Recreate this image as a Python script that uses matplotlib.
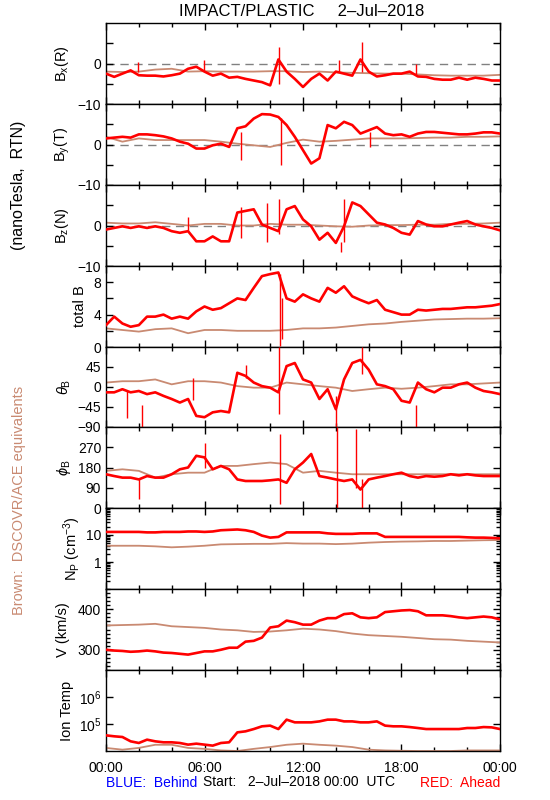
import numpy as np
import matplotlib
matplotlib.use("Agg")
import matplotlib.pyplot as plt
from matplotlib.ticker import FixedLocator, LogLocator, NullFormatter, MultipleLocator

# ---- data ----
t_red = np.arange(0, 24.01, 0.5)     # 30-min samples, STEREO-A (red)
t_brn = np.arange(0, 24.01, 1.0)     # hourly samples, DSCOVR/ACE (brown)

bx_red = [-2.5, -3.3, -2.5, -1.7, -2.9, -3.0, -3.0, -3.2, -2.9, -2.5, -1.3, -0.8, -2.0, -3.0, -2.5, -3.5,
          -3.3, -3.8, -4.2, -4.6, -5.4, 1.0, -2.0, -3.8, -5.8, -3.8, -2.5, -4.2, -2.0, -2.5, -3.0, 1.0,
          -2.0, -3.2, -2.9, -2.5, -2.5, -2.0, -3.2, -3.3, -3.8, -4.0, -4.0, -3.5, -4.0, -3.5, -3.8, -4.2, -4.2]
bx_brn = [-2.0, -2.1, -2.0, -1.5, -1.3, -2.0, -1.9, -2.0, -2.0, -2.0, -1.9, -1.9, -2.1, -2.0, -2.2, -2.3,
          -2.4, -2.5, -2.5, -2.7, -2.9, -3.0, -3.0, -3.0, -2.8]
bx_spikes = [(10.55, -5.0, 4.0), (15.6, -2.0, 5.2), (5.95, -1.5, 0.8), (1.95, -2.0, 0.4), (14.2, -2.0, 0.8), (18.9, -2.5, -0.2)]

by_red = [1.5, 1.7, 1.9, 1.7, 2.5, 2.5, 2.3, 2.0, 1.5, 0.7, 0.2, -1.0, -1.0, -0.2, 0.2, -0.6,
          4.0, 4.5, 6.4, 7.5, 7.4, 6.8, 4.8, 1.9, -1.4, -4.7, -3.4, 4.8, 4.0, 5.6, 4.8, 2.7,
          3.5, 4.3, 2.7, 2.3, 2.5, 1.9, 2.7, 3.1, 3.1, 2.9, 2.7, 2.5, 2.5, 2.7, 3.0, 3.0, 2.7]
by_brn = [1.9, 0.7, 1.5, 1.1, 1.1, 1.1, 1.1, 0.7, 0.2, -0.2, -0.6, 0.4, 1.2, 0.7, 0.9, 1.2,
          1.5, 1.5, 1.5, 1.6, 1.7, 1.7, 1.9, 1.9, 2.0]
by_spikes = [(10.66, 6.5, -5.0), (8.2, 3.0, -3.8), (16.1, 3.0, -0.5)]

bz_red = [-1.0, -0.6, -0.2, -0.6, -0.2, -0.6, -0.2, -0.6, -1.4, -1.8, -1.4, -3.9, -3.9, -2.7, -3.9, -3.9,
          3.2, 3.6, 4.0, 0.25, -0.6, -1.4, 4.0, 4.8, 1.5, -0.2, -3.5, -1.8, -4.3, -0.2, 5.7, 4.8,
          2.75, 0.7, 0.25, -0.6, -1.8, -2.25, 1.1, 0.25, -0.2, -0.2, 0.25, 0.7, 1.1, 0.25, -0.2, -0.6, -1.2]
bz_brn = [0.7, 0.5, 0.5, 0.8, 0.4, 0.0, 0.4, 0.4, 0.0, 0.0, 0.4, 0.2, 0.2, 0.0, -0.2, -0.3,
          0.0, 0.1, 0.1, 0.2, 0.2, 0.4, 0.4, 0.5, 0.7]
bz_spikes = [(9.8, 5.5, -4.0), (10.55, 6.5, -2.0), (14.5, 6.5, -4.0), (5.0, -1.0, 2.0), (8.2, -3.0, 4.5), (14.3, -4.0, -6.5)]

bt_red = [2.7, 3.75, 2.9, 2.5, 2.7, 3.75, 3.75, 4.0, 3.5, 3.75, 3.5, 4.4, 5.0, 4.6, 4.8, 5.4,
          6.0, 5.8, 7.3, 8.75, 9.0, 9.2, 6.0, 5.6, 6.5, 6.0, 5.6, 7.3, 6.7, 7.5, 6.25, 5.8,
          5.4, 5.8, 4.6, 4.3, 4.0, 4.0, 4.6, 4.5, 4.6, 4.7, 4.7, 4.8, 4.9, 4.9, 5.0, 5.1, 5.3]
bt_brn = [2.3, 2.1, 1.9, 2.2, 2.3, 1.7, 2.1, 2.1, 2.0, 2.0, 2.0, 2.1, 2.3, 2.3, 2.4, 2.6,
          2.8, 2.9, 3.1, 3.25, 3.4, 3.45, 3.5, 3.5, 3.55]
bt_spikes = [(10.6, 9.0, 0.1), (10.75, 6.0, 1.0)]

th_red = [-12, -12, -5, -12, -9, -16, -12, -20, -27, -35, -27, -65, -68, -57, -54, -57,
          32, 25, 10, 2, -1.5, -12, 47, 54, 17, 10, -27, -5, -50, 17, 54, 61,
          39, 6, 2, -5, -31, -35, 10, -5, -12, -1.5, -1.5, 6, 10, -1.5, -9, -12, -16]
th_brn = [10, 13, 13, 17, 6, 13, 13, 10, 2, -1.5, -1.5, 10, 6, 2, -1.5, -9,
          -5, -1.5, -4, -1.5, 2, 6, 6, 8, 10]
th_spikes = [(10.55, 90, -60), (14.0, -20, -90), (15.6, 90, 30), (18.9, -40, -90), (5.3, -30, 20),
             (8.5, 20, 50), (1.3, -10, -70), (2.2, -40, -90)]

ph_red = [150, 142, 135, 135, 127, 142, 135, 135, 150, 172, 180, 232, 225, 172, 187, 172,
          127, 120, 120, 120, 123, 127, 112, 172, 202, 240, 142, 135, 127, 120, 127, 82,
          127, 135, 142, 150, 157, 142, 135, 142, 139, 142, 150, 145, 150, 145, 142, 142, 142]
ph_brn = [165, 172, 165, 135, 150, 157, 157, 187, 187, 195, 202, 195, 157, 165, 157, 150,
          150, 150, 150, 150, 150, 150, 150, 150, 150]
ph_spikes = [(10.6, 20, 330), (14.05, 0, 360), (15.6, 0, 130), (2.0, 40, 130), (15.2, 90, 350), (6.0, 180, 290)]

np_red = [13, 13, 13, 13, 13, 12.5, 12.5, 13, 13, 13, 13.5, 13.5, 13, 13.5, 15, 15.5,
          16, 15, 13, 9.5, 8, 8.5, 12.5, 12.5, 12.5, 12.5, 12.5, 11.5, 11, 11, 11, 11.5,
          11.5, 11.5, 8.5, 8.5, 8.5, 8.5, 8.5, 8.5, 8.5, 8.5, 8.5, 8.5, 8.2, 8, 8, 7.8, 7.5]
np_brn = [4, 4, 4, 3.8, 3.5, 3.7, 4, 4.5, 4.6, 4.7, 4.7, 5, 4.8, 4.8, 4.6, 4.8,
          5.2, 5.5, 5.7, 5.8, 6, 6, 6.2, 6.4, 6.5]

v_red = [300, 298, 297, 295, 296, 298, 296, 293, 292, 290, 288, 292, 296, 296, 300, 305,
         305, 320, 322, 330, 355, 358, 372, 368, 362, 362, 372, 378, 378, 388, 390, 380,
         378, 380, 393, 395, 397, 398, 395, 385, 385, 385, 383, 380, 378, 380, 382, 380, 375]
v_brn = [360, 361, 362, 364, 358, 356, 354, 350, 348, 344, 345, 348, 352, 350, 346, 340,
         336, 334, 332, 329, 326, 325, 322, 320, 318]

ti_red = [38000, 35000, 33000, 22800, 19800, 26300, 22800, 21000, 21000, 19800, 17200, 18700, 17200, 15800, 19800, 21000,
          49000, 53500, 65000, 82000, 87000, 65000, 145000, 115000, 115000, 115000, 125000, 145000, 145000, 125000, 125000, 115000,
          115000, 125000, 87000, 82000, 82000, 77000, 71000, 65000, 65000, 65000, 65000, 65000, 71000, 71000, 77000, 75000, 65000]
ti_brn = [13000, 11200, 13000, 17000, 17000, 13000, 12000, 10500, 10000, 12000, 14000, 17000, 18700, 17000, 15800, 14000,
          11200, 10500, 10200, 10000, 10000, 10000, 10500, 10500, 10500]

RED = "#ff0000"
BROWN = "#c98a72"

plt.rcParams['font.family'] = ['Liberation Sans', 'DejaVu Sans']
plt.rcParams['font.size'] = 10
plt.rcParams['mathtext.fontset'] = 'custom'
plt.rcParams['mathtext.rm'] = 'Liberation Sans'
plt.rcParams['mathtext.it'] = 'Liberation Sans:italic'

fig = plt.figure(figsize=(5.5, 8), dpi=100)
W, H = 550.0, 800.0
edges = [23, 104, 185, 266, 347, 427, 508, 589, 670, 751]
x0, x1 = 106, 500

panels = [
    (bx_red, bx_brn, bx_spikes, r"B$_\mathrm{x}$(R)", 62),
    (by_red, by_brn, by_spikes, r"B$_\mathrm{y}$(T)", 62),
    (bz_red, bz_brn, bz_spikes, r"B$_\mathrm{z}$(N)", 62),
    (bt_red, bt_brn, bt_spikes, "total B", 80),
    (th_red, th_brn, th_spikes, r"$\theta_\mathrm{B}$", 64),
    (ph_red, ph_brn, ph_spikes, r"$\phi_\mathrm{B}$", 64),
    (np_red, np_brn, None, r"N$_\mathrm{P}$ (cm$^{-3}$)", 72),
    (v_red, v_brn, None, "V (km/s)", 63),
    (ti_red, ti_brn, None, "Ion Temp", 67),
]

axes = []
for i, (r, b, spk, lab, lx) in enumerate(panels):
    top, bot = edges[i], edges[i + 1]
    ax = fig.add_axes([x0 / W, 1 - bot / H, (x1 - x0) / W, (bot - top) / H])
    axes.append(ax)
    ax.plot(t_brn, b, color=BROWN, lw=1.3, zorder=2)
    ax.plot(t_red, r, color=RED, lw=1.9, zorder=3)
    if spk:
        for (ts, lo, hi) in spk:
            ax.vlines(ts, lo, hi, color=RED, lw=1.0, zorder=3)
    fig.text(lx / W, 1 - (top + bot) / 2 / H, lab, rotation=90, ha='center', va='center', fontsize=10.5)
    ax.set_xlim(0, 24)
    ax.xaxis.set_major_locator(MultipleLocator(6))
    ax.xaxis.set_minor_locator(MultipleLocator(2))
    ax.tick_params(which='both', direction='in', top=True, right=True, width=1)
    ax.tick_params(which='major', length=5)
    ax.tick_params(which='minor', length=3)
    for s in ax.spines.values():
        s.set_linewidth(1.0)
    if i < 8:
        ax.set_xticklabels([])

# magnetic components
for ax in axes[:3]:
    ax.set_ylim(-10, 10)
    ax.set_yticks([-10, -5, 0, 5])
    ax.set_yticklabels(['\u221210', '', '0', ''])
    ax.axhline(0, color='#808080', lw=1.0, dashes=(6, 4), zorder=1)

axes[3].set_ylim(0, 10)
axes[3].set_yticks([0, 2, 4, 6, 8])
axes[3].set_yticklabels(['0', '', '4', '', '8'])

axes[4].set_ylim(-90, 90)
axes[4].set_yticks([-90, -45, 0, 45])
axes[4].set_yticklabels(['\u221290', '\u221245', '0', '45'])

axes[5].set_ylim(0, 360)
axes[5].set_yticks([0, 90, 180, 270])

axes[6].set_yscale('log')
axes[6].set_ylim(0.1, 100)
axes[6].set_yticks([1, 10])
axes[6].set_yticklabels(['1', '10'])
axes[6].yaxis.set_minor_locator(LogLocator(base=10, subs=np.arange(2, 10)))
axes[6].yaxis.set_minor_formatter(NullFormatter())

axes[7].set_ylim(250, 450)
axes[7].set_yticks([300, 400])
axes[7].yaxis.set_minor_locator(MultipleLocator(10))

axes[8].set_yscale('log')
axes[8].set_ylim(1e4, 1e7)
axes[8].set_yticks([1e5, 1e6])
axes[8].set_yticklabels([r'10$^5$', r'10$^6$'])
axes[8].yaxis.set_minor_locator(FixedLocator([]))

axes[8].set_xticks([0, 6, 12, 18, 24])
axes[8].set_xticklabels(['00:00', '06:00', '12:00', '18:00', '00:00'])
axes[8].tick_params(axis='x', pad=7)

fig.text(302 / W, 1 - 12 / H, "IMPACT/PLASTIC     2\u2013Jul\u20132018", ha='center', va='center', fontsize=12)
fig.text(19 / W, 1 - 185 / H, "(nanoTesla,  RTN)", rotation=90, ha='center', va='center', fontsize=11.5)
fig.text(19 / W, 1 - 500 / H, "Brown:  DSCOVR/ACE equivalents", rotation=90, ha='center', va='center',
         color=BROWN, fontsize=10.5)
fig.text(106 / W, 1 - 783 / H, "BLUE:  Behind", color='#0000ff', ha='left', va='center')
fig.text(203 / W, 1 - 782 / H, "Start:   2\u2013Jul\u20132018 00:00  UTC", color='black', ha='left', va='center')
fig.text(500 / W, 1 - 783 / H, "RED:  Ahead", color=RED, ha='right', va='center')

fig.savefig("out.png", dpi=100)
